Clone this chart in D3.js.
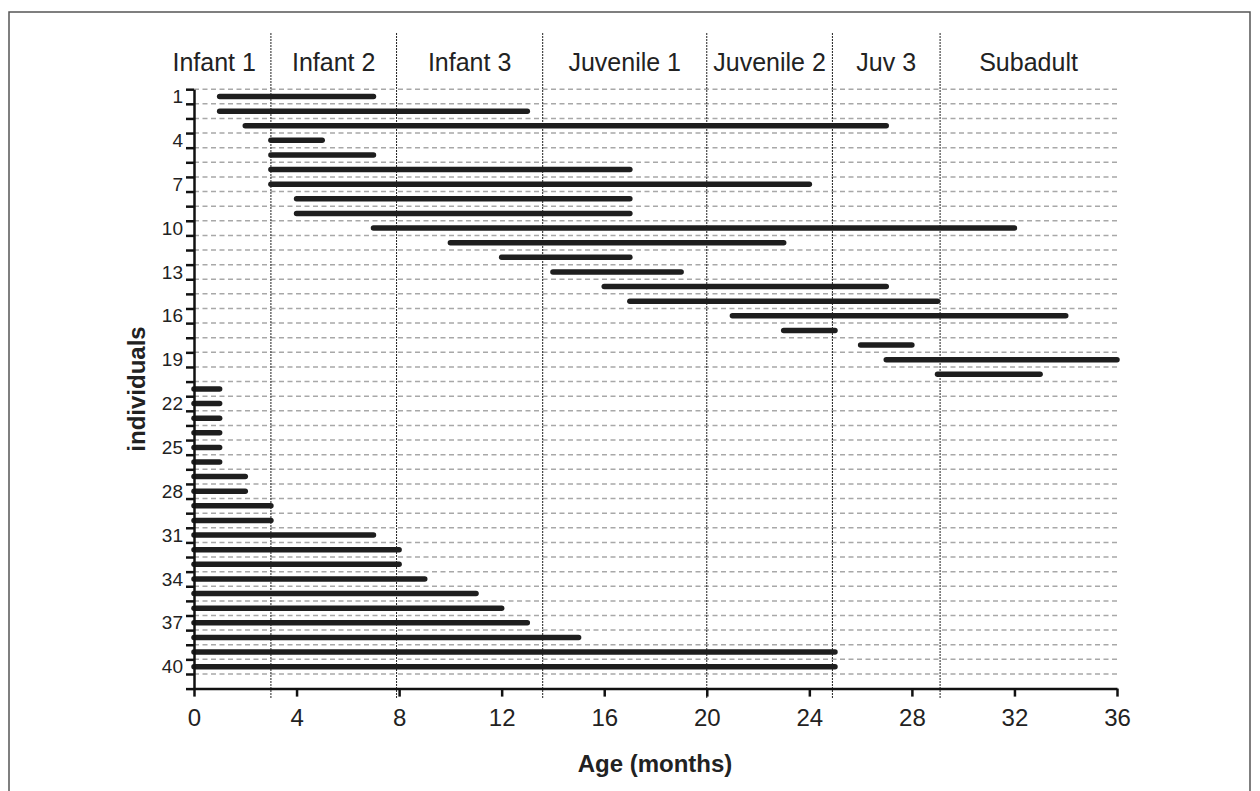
<!DOCTYPE html>
<html>
<head>
<meta charset="utf-8">
<script src="https://cdn.jsdelivr.net/npm/d3@7"></script>
<style>
  body { margin: 0; background: #fff; }
  text { font-family: "Liberation Sans", Arial, sans-serif; fill: #222; }
</style>
</head>
<body>
<script>
// age at first and last sighting (months), one entry per individual
var starts = [1, 1, 2, 3, 3, 3, 3, 4, 4, 7, 10, 12, 14, 16, 17, 21, 23, 26, 27, 29,
              0, 0, 0, 0, 0, 0, 0, 0, 0, 0, 0, 0, 0, 0, 0, 0, 0, 0, 0, 0];
var ends   = [7, 13, 27, 5, 7, 17, 24, 17, 17, 32, 23, 17, 19, 27, 29, 34, 25, 28, 36, 33,
              1, 1, 1, 1, 1, 1, 2, 2, 3, 3, 7, 8, 8, 9, 11, 12, 13, 15, 25, 25];

var classNames  = ["Infant 1", "Infant 2", "Infant 3", "Juvenile 1", "Juvenile 2", "Juv 3", "Subadult"];
var classBounds = [3, 7.9, 13.6, 20, 24.9, 29.1];

var xTicks = [0, 4, 8, 12, 16, 20, 24, 28, 32, 36];
var yLabels = [1, 4, 7, 10, 13, 16, 19, 22, 25, 28, 31, 34, 37, 40];

var width = 1260, height = 791;
var nRows = 41;

var data = starts.map(function(s, i) { return { id: i + 1, start: s, end: ends[i] }; });

var svg = d3.select("body").append("svg")
    .attr("width", width)
    .attr("height", height);

// frame round the figure
svg.append("rect")
    .attr("x", 9).attr("y", 12)
    .attr("width", 1241).attr("height", 800)
    .attr("fill", "none")
    .attr("stroke", "#555")
    .attr("stroke-width", 1.5);

var x = d3.scaleLinear().domain([0, 36]).range([194, 1117]);
var y = d3.scaleLinear().domain([0.5, nRows + 0.5]).range([89.2, 688.6]);

// dashed row lines
svg.append("g").selectAll("line")
    .data(d3.range(0.5, nRows, 1))
  .enter().append("line")
    .attr("x1", x(0)).attr("x2", x(36))
    .attr("y1", function(d) { return y(d); })
    .attr("y2", function(d) { return y(d); })
    .attr("stroke", "#a8a8a8")
    .attr("stroke-width", 1.5)
    .attr("stroke-dasharray", "5,3.5");

// age class boundaries
svg.append("g").selectAll("line")
    .data(classBounds)
  .enter().append("line")
    .attr("x1", function(d) { return x(d); })
    .attr("x2", function(d) { return x(d); })
    .attr("y1", 33).attr("y2", 698)
    .attr("stroke", "#222")
    .attr("stroke-width", 1)
    .attr("stroke-dasharray", "2,1");

// age class names, centred in each class; the first one is too wide for
// its class so it sits to the left of the first boundary
var edges = [0].concat(classBounds, [36]);
svg.append("g").selectAll("text")
    .data(classNames)
  .enter().append("text")
    .attr("x", function(d, i) { return i == 0 ? x(edges[1]) - 15 : x((edges[i] + edges[i + 1]) / 2); })
    .attr("y", 71)
    .attr("text-anchor", function(d, i) { return i == 0 ? "end" : "middle"; })
    .style("font-size", "25px")
    .text(function(d) { return d; });

// one bar per individual
svg.append("g").selectAll("line")
    .data(data)
  .enter().append("line")
    .attr("x1", function(d) { return x(d.start); })
    .attr("x2", function(d) { return x(d.end); })
    .attr("y1", function(d) { return y(d.id); })
    .attr("y2", function(d) { return y(d.id); })
    .attr("stroke", "#1e1e1e")
    .attr("stroke-width", 5.5)
    .attr("stroke-linecap", "round");

// y axis: ticks on the row edges, labels on every third row
var yAxis = svg.append("g")
    .attr("transform", "translate(" + x(0) + ",0)")
    .call(d3.axisLeft(y).tickValues(d3.range(0.5, nRows + 1, 1)).tickSize(8).tickSizeOuter(0).tickFormat(""));
yAxis.selectAll("path, line").attr("stroke", "#111").attr("stroke-width", 2.5);

var yText = svg.append("g")
    .attr("transform", "translate(" + x(0) + ",0)")
    .call(d3.axisLeft(y).tickValues(yLabels).tickSize(0).tickPadding(11));
yText.select(".domain").remove();
yText.selectAll("text")
    .style("font-family", '"Liberation Sans", Arial, sans-serif')
    .style("font-size", "19px")
    .attr("fill", "#222");

// x axis
var xAxis = svg.append("g")
    .attr("transform", "translate(0," + y(nRows + 0.5) + ")")
    .call(d3.axisBottom(x).tickValues(xTicks).tickSize(8).tickSizeOuter(0).tickPadding(12));
xAxis.selectAll("path, line").attr("stroke", "#111").attr("stroke-width", 2.5);
xAxis.selectAll("text")
    .style("font-family", '"Liberation Sans", Arial, sans-serif')
    .style("font-size", "24px")
    .attr("fill", "#222");

// axis titles
svg.append("text")
    .attr("x", 655)
    .attr("y", 772)
    .attr("text-anchor", "middle")
    .style("font-size", "24px")
    .style("font-weight", "bold")
    .text("Age (months)");

svg.append("text")
    .attr("transform", "translate(145,389) rotate(-90)")
    .attr("text-anchor", "middle")
    .style("font-size", "24px")
    .style("font-weight", "bold")
    .text("individuals");
</script>
</body>
</html>
